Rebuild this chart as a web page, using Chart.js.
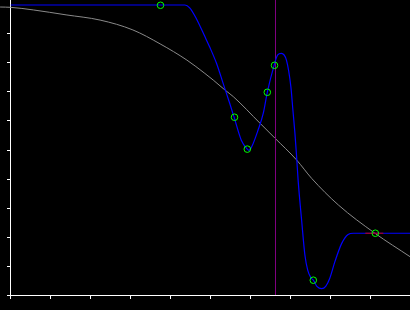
<!DOCTYPE html>
<html>
<head>
<meta charset="utf-8">
<script src="https://cdn.jsdelivr.net/npm/chart.js@4/dist/chart.umd.min.js"></script>
<style>
html,body{margin:0;padding:0;background:#000;}
canvas{display:block;}
</style>
</head>
<body>
<canvas id="c" width="410" height="310"></canvas>
<script>
// Tick positions (no labels shown)
const xTicks = [0,1,2,3,4,5,6,7,8,9];
const yTicks = [0,1,2,3,4,5,6,7,8,9];

// Grey reference curve
const grayX = [-0.26,0,0.57,1.39,2.24,3.06,3.74,4.41,4.86,5.07,5.36,5.57,6.24,6.61,7.15,7.53,8.20,9.11,9.99];
const grayY = [9.93,9.92,9.83,9.66,9.48,9.14,8.66,8.10,7.64,7.41,7.07,6.84,5.92,5.41,4.66,4.02,3.10,2.13,1.32];

// Blue fitted curve
const blueX = [0,4.36,4.48,4.65,4.86,4.98,5.15,5.32,5.48,5.59,5.77,5.92,5.96,6.03,6.19,6.32,6.42,6.59,6.68,6.77,6.90,7.01,7.06,7.11,7.15,7.19,7.28,7.36,7.43,7.51,7.57,7.66,7.78,7.88,7.98,8.11,8.28,8.44,8.57,9.99];
const blueY = [10,10,9.90,9.52,8.91,8.55,7.99,7.28,6.61,6.13,5.34,5.03,4.99,5.11,5.69,6.27,6.99,7.92,8.28,8.33,8.09,7.17,6.38,5.59,4.83,3.97,2.55,1.38,0.86,0.60,0.51,0.30,0.22,0.30,0.57,1.15,1.78,2.09,2.13,2.13];

// Green sample points
const ptX = [3.75,5.60,5.92,6.42,6.60,7.57,9.12];
const ptY = [9.99,6.13,5.03,6.99,7.92,0.51,2.13];

// Red segment
const redX = [8.87,9.32];
const redY = [2.13,2.13];

// Purple vertical marker
const markerX = 6.625;

const X_MAX = 9.9875, Y_MAX = 295/29;

const xy = (xs, ys) => xs.map((x,i)=>({x:x, y:ys[i]}));

new Chart(document.getElementById('c'), {
  type: 'line',
  data: {
    datasets: [
      { data: xy(ptX, ptY), showLine:false, pointRadius:3.3, pointHoverRadius:3.3,
        pointBorderColor:'#00ff00', pointBackgroundColor:'rgba(0,0,0,0)', pointBorderWidth:1, order:0 },
      { data: xy(redX, redY), borderColor:'#cc0000', borderWidth:1, pointRadius:0, order:1 },
      { data: xy(blueX, blueY), borderColor:'#0000ff', borderWidth:1.2, pointRadius:0,
        cubicInterpolationMode:'monotone', order:2 },
      { data: [{x:markerX,y:0},{x:markerX,y:Y_MAX}], borderColor:'#800080', borderWidth:1, pointRadius:0, order:3 },
      { data: xy(grayX, grayY), borderColor:'#8a8a8a', borderWidth:1, pointRadius:0,
        cubicInterpolationMode:'monotone', clip:false, order:4 }
    ]
  },
  options: {
    responsive:false,
    animation:false,
    events:[],
    layout:{padding:0, autoPadding:false},
    plugins:{legend:{display:false}, tooltip:{enabled:false}},
    scales:{
      x:{
        type:'linear', min:0, max:X_MAX,
        afterBuildTicks:(s)=>{ s.ticks = xTicks.map(v=>({value:v})); },
        afterFit:(s)=>{ s.height = 15; },
        ticks:{display:false},
        grid:{display:true, drawOnChartArea:false, drawTicks:true, tickLength:4, color:'#ffffff', lineWidth:1},
        border:{display:true, color:'#ffffff', width:1}
      },
      y:{
        type:'linear', min:0, max:Y_MAX,
        afterBuildTicks:(s)=>{ s.ticks = yTicks.map(v=>({value:v})); },
        afterFit:(s)=>{ s.width = 10.5; },
        ticks:{display:false},
        grid:{display:true, drawOnChartArea:false, drawTicks:true, tickLength:3.5, color:'#ffffff', lineWidth:1},
        border:{display:true, color:'#ffffff', width:1}
      }
    }
  }
});
</script>
</body>
</html>
